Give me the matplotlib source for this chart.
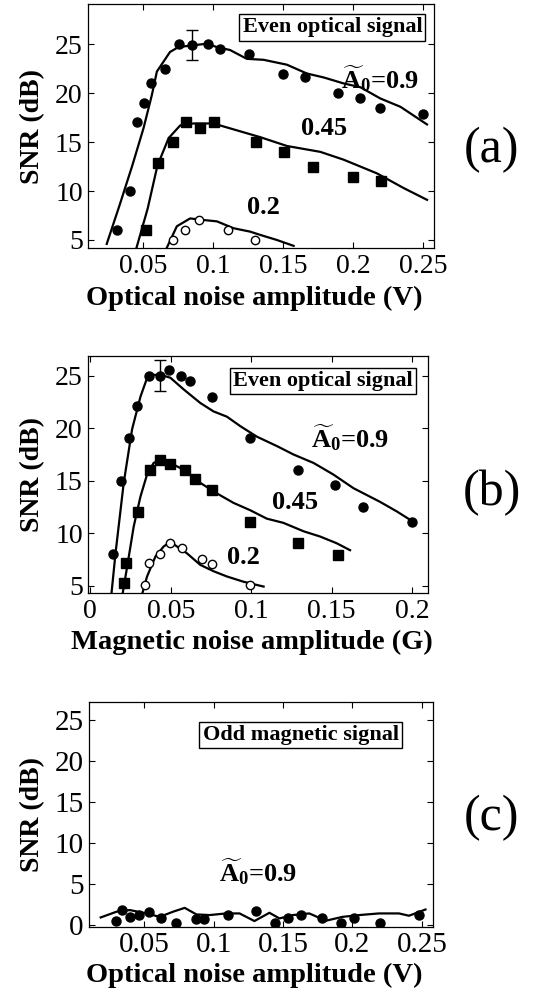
import matplotlib
matplotlib.use("Agg")
import matplotlib.pyplot as plt

plt.rcParams['font.family'] = ['Liberation Serif', 'DejaVu Serif']
plt.rcParams['mathtext.fontset'] = 'custom'
plt.rcParams['mathtext.rm'] = 'Liberation Serif'
plt.rcParams['mathtext.bf'] = 'Liberation Serif:bold'
plt.rcParams['mathtext.it'] = 'Liberation Serif:italic'

# ---------------- Panel (a): optical noise, even optical signal ----------------
a_x09 = [0.0314, 0.0404, 0.0457, 0.0505, 0.0553, 0.0655, 0.0751, 0.0851, 0.0959, 0.105,
         0.1257, 0.1499, 0.1654, 0.1893, 0.2048, 0.2196, 0.25]
a_y09 = [6.0, 10.0, 17.0, 19.0, 21.05, 22.5, 25.0, 24.9, 25.0, 24.5,
         24.0, 21.9, 21.6, 20.0, 19.45, 18.5, 17.9]
a_err_x = [0.0851]
a_err_y = [24.9]
a_err = [1.55]
a_fit09_x = [0.0237, 0.0330, 0.0420, 0.0500, 0.0560, 0.0596, 0.069, 0.075, 0.0955, 0.1025,
             0.112, 0.124, 0.136, 0.1527, 0.167, 0.179, 0.193, 0.2053, 0.2196, 0.234, 0.253]
a_fit09_y = [4.6, 8.6, 12.6, 16.4, 19.8, 22.2, 24.2, 24.7, 25.05, 24.7,
             24.4, 23.5, 23.4, 22.9, 22.0, 21.6, 21.0, 20.6, 19.45, 18.6, 16.8]

a_x045 = [0.0519, 0.0603, 0.0708, 0.0806, 0.0906, 0.1002, 0.1305, 0.1503, 0.1711, 0.1998, 0.2201]
a_y045 = [6.0, 12.9, 15.0, 17.0, 16.4, 17.0, 15.0, 14.0, 12.5, 11.4, 11.0]
a_fit045_x = [0.0447, 0.0530, 0.0600, 0.0680, 0.0763, 0.0858, 0.100, 0.124, 0.1336,
              0.1527, 0.1766, 0.1933, 0.2172, 0.2363, 0.253]
a_fit045_y = [4.05, 8.2, 12.6, 15.4, 16.7, 16.9, 16.9, 15.9, 15.5,
              14.6, 14.0, 13.2, 11.8, 10.3, 9.1]

a_x02 = [0.0708, 0.0799, 0.090, 0.1104, 0.1296]
a_y02 = [5.0, 6.0, 7.04, 6.0, 5.0]
a_fit02_x = [0.0662, 0.0739, 0.0834, 0.093, 0.1026, 0.1145, 0.1264, 0.134, 0.1455, 0.1575]
a_fit02_y = [4.05, 6.4, 7.2, 7.04, 6.9, 6.2, 5.85, 5.5, 5.0, 4.4]

# ---------------- Panel (b): magnetic noise, even optical signal ----------------
b_x09 = [0.014, 0.0192, 0.024, 0.0291, 0.0363, 0.0432, 0.0487, 0.0564, 0.0622, 0.0758,
         0.0994, 0.1293, 0.1523, 0.1697, 0.1996]
b_y09 = [8.05, 15.0, 19.06, 22.1, 25.0, 25.0, 25.5, 25.0, 24.5, 23.0,
         19.06, 16.0, 14.56, 12.5, 11.06]
b_err_x = [0.0432]
b_err_y = [25.0]
b_err = [1.45]
b_fit09_x = [0.013, 0.0157, 0.0208, 0.026, 0.0312, 0.0349, 0.0384, 0.0456, 0.0498, 0.058,
             0.0684, 0.0766, 0.0849, 0.0932, 0.1035, 0.116, 0.1263, 0.1387, 0.151, 0.1635,
             0.18, 0.1903, 0.1986]
b_fit09_y = [3.98, 8.1, 14.8, 19.9, 23.0, 24.6, 25.1, 25.0, 24.8, 23.7,
             22.4, 21.6, 21.1, 20.2, 19.2, 18.3, 17.5, 16.7, 15.6, 14.3,
             13.0, 12.1, 11.3]

b_x045 = [0.0208, 0.0225, 0.0295, 0.037, 0.0432, 0.0498, 0.0591, 0.0653, 0.0756, 0.0994,
          0.1293, 0.1541]
b_y045 = [5.25, 7.16, 12.08, 16.05, 17.0, 16.6, 16.0, 15.16, 14.08, 11.06, 9.13, 7.95]
b_fit045_x = [0.0198, 0.0229, 0.027, 0.0312, 0.0353, 0.0394, 0.0436, 0.0498, 0.058, 0.0684,
              0.0787, 0.089, 0.0994, 0.1097, 0.12, 0.1325, 0.1428, 0.1531, 0.1614]
b_fit045_y = [3.98, 6.8, 10.65, 13.5, 15.6, 16.7, 17.0, 16.7, 16.05, 14.8,
              13.8, 12.9, 12.2, 11.4, 11.0, 10.2, 9.7, 9.06, 8.4]

b_x02 = [0.0343, 0.0368, 0.0436, 0.0494, 0.057, 0.0694, 0.0756, 0.0994]
b_y02 = [5.1, 7.16, 8.0, 9.13, 8.6, 7.6, 7.1, 5.1]
b_fit02_x = [0.0318, 0.0353, 0.0405, 0.0456, 0.0498, 0.0539, 0.0601, 0.0684, 0.0766,
             0.0849, 0.0952, 0.1077]
b_fit02_y = [3.98, 5.9, 7.8, 8.75, 9.2, 8.75, 8.1, 7.0, 6.4, 5.9, 5.4, 4.94]

# ---------------- Panel (c): optical noise, odd magnetic signal ----------------
c_x = [0.0297, 0.0344, 0.0397, 0.0464, 0.0536, 0.0624, 0.0732, 0.0876, 0.0928, 0.1103,
       0.1306, 0.1445, 0.1533, 0.1629, 0.178, 0.1916, 0.2012, 0.2196, 0.2478]
c_y = [0.53, 1.83, 1.0, 1.22, 1.63, 0.81, 0.2, 0.69, 0.69, 1.22,
       1.75, 0.2, 0.81, 1.22, 0.81, 0.28, 0.81, 0.28, 1.22]
c_fit_x = [0.0187, 0.0301, 0.0397, 0.0517, 0.0612, 0.0708, 0.0792, 0.0876, 0.097, 0.1091,
           0.1187, 0.1294, 0.1402, 0.1474, 0.157, 0.1689, 0.1809, 0.1928, 0.2048, 0.2191,
           0.2335, 0.2407, 0.2526]
c_fit_y = [0.93, 1.63, 1.83, 1.42, 1.0, 1.63, 2.1, 1.3, 1.22, 1.42,
           1.42, 0.49, 1.5, 0.81, 1.22, 1.42, 0.53, 1.0, 1.22, 1.42,
           1.42, 1.14, 1.9]

# ticks / labels
opt_xticks = [0.05, 0.1, 0.15, 0.2, 0.25]
opt_xticklabels = ['0.05', '0.1', '0.15', '0.2', '0.25']
mag_xticks = [0, 0.05, 0.1, 0.15, 0.2]
mag_xticklabels = ['0', '0.05', '0.1', '0.15', '0.2']
ab_yticks = [5, 10, 15, 20, 25]
c_yticks = [0, 5, 10, 15, 20, 25]

W, H = 538, 996
fig = plt.figure(figsize=(W / 100, H / 100), dpi=100)

def px_axes(l, t, r, b):
    return fig.add_axes([l / W, 1 - b / H, (r - l) / W, (b - t) / H])

axA = px_axes(88.3, 4, 434, 248.3)
axB = px_axes(88.3, 355.7, 428.3, 593.3)
axC = px_axes(89.3, 702.3, 433, 926.7)

TICKFS = 20
LBLFS = 20.5
YLBLFS = 20
BOXFS = 16
ANNFS = 19
LW = 1.6

def style(ax, tfs):
    ax.tick_params(direction='in', top=True, right=True, length=4, width=0.8,
                   labelsize=tfs, pad=4)
    for s in ax.spines.values():
        s.set_linewidth(0.9)

def boxlabel(ax, x, y, txt):
    ax.text(x, y, txt, fontsize=BOXFS, fontweight='bold', ha='center', va='center',
            bbox=dict(boxstyle='square,pad=0.15', fc='white', ec='black', lw=1.0))

A0 = r'$\mathbf{\widetilde{A}_{0}}$' + '=0.9'

def finish(ax, xlabel, ly, tfs=TICKFS):
    ax.set_xlabel(xlabel, fontsize=LBLFS, fontweight='bold', labelpad=0)
    ax.xaxis.set_label_coords(0.48, ly)
    ax.xaxis.label.set_va('center')
    ax.set_ylabel('SNR (dB)', fontsize=YLBLFS, fontweight='bold', labelpad=7)
    style(ax, tfs)

# ---- (a)
ax = axA
ax.plot(a_fit09_x, a_fit09_y, color='black', lw=LW)
ax.plot(a_fit045_x, a_fit045_y, color='black', lw=LW)
ax.plot(a_fit02_x, a_fit02_y, color='black', lw=LW)
ax.plot(a_x09, a_y09, 'o', color='black', ms=6.5)
ax.errorbar(a_err_x, a_err_y, yerr=a_err, fmt='none', ecolor='black', elinewidth=1.0, capsize=4)
ax.plot(a_x045, a_y045, 's', color='black', ms=7)
ax.plot(a_x02, a_y02, 'o', mfc='white', mec='black', mew=1.0, ms=6)
ax.set_xlim(0.0105, 0.258)
ax.set_ylim(4.15, 29.1)
ax.set_xticks(opt_xticks)
ax.set_xticklabels(opt_xticklabels)
ax.set_yticks(ab_yticks)
boxlabel(ax, 0.1852, 26.7, 'Even optical signal')
ax.text(0.2196, 21.5, A0, fontsize=ANNFS, fontweight='bold', ha='center', va='center')
ax.text(0.179, 16.4, '0.45', fontsize=ANNFS, fontweight='bold', ha='center', va='center')
ax.text(0.136, 8.3, '0.2', fontsize=ANNFS, fontweight='bold', ha='center', va='center')
finish(ax, 'Optical noise amplitude (V)', -0.205)

# ---- (b)
ax = axB
ax.plot(b_fit09_x, b_fit09_y, color='black', lw=LW)
ax.plot(b_fit045_x, b_fit045_y, color='black', lw=LW)
ax.plot(b_fit02_x, b_fit02_y, color='black', lw=LW)
ax.plot(b_x09, b_y09, 'o', color='black', ms=6.5)
ax.errorbar(b_err_x, b_err_y, yerr=b_err, fmt='none', ecolor='black', elinewidth=1.0, capsize=4)
ax.plot(b_x045, b_y045, 's', color='black', ms=7)
ax.plot(b_x02, b_y02, 'o', mfc='white', mec='black', mew=1.0, ms=6)
ax.set_xlim(-0.0012, 0.21)
ax.set_ylim(4.3, 26.9)
ax.set_xticks(mag_xticks)
ax.set_xticklabels(mag_xticklabels)
ax.set_yticks(ab_yticks)
boxlabel(ax, 0.1444, 24.5, 'Even optical signal')
ax.text(0.1615, 19.1, A0, fontsize=ANNFS, fontweight='bold', ha='center', va='center')
ax.text(0.1273, 12.9, '0.45', fontsize=ANNFS, fontweight='bold', ha='center', va='center')
ax.text(0.095, 7.67, '0.2', fontsize=ANNFS, fontweight='bold', ha='center', va='center')
finish(ax, 'Magnetic noise amplitude (G)', -0.205)

# ---- (c)
ax = axC
ax.plot(c_fit_x, c_fit_y, color='black', lw=LW)
ax.plot(c_x, c_y, 'o', color='black', ms=6.5)
ax.set_xlim(0.0105, 0.258)
ax.set_ylim(-0.2, 27.2)
ax.set_xticks(opt_xticks)
ax.set_xticklabels(opt_xticklabels)
ax.set_yticks(c_yticks)
boxlabel(ax, 0.1628, 23.2, 'Odd magnetic signal')
ax.text(0.132, 6.5, A0, fontsize=ANNFS, fontweight='bold', ha='center', va='center')
finish(ax, 'Optical noise amplitude (V)', -0.215, tfs=21)

# panel letters
for lab, yp in [('(a)', 150), ('(b)', 493), ('(c)', 818)]:
    fig.text(492 / W, 1 - yp / H, lab, fontsize=36, ha='center', va='center')

fig.savefig('out.png', dpi=100)
